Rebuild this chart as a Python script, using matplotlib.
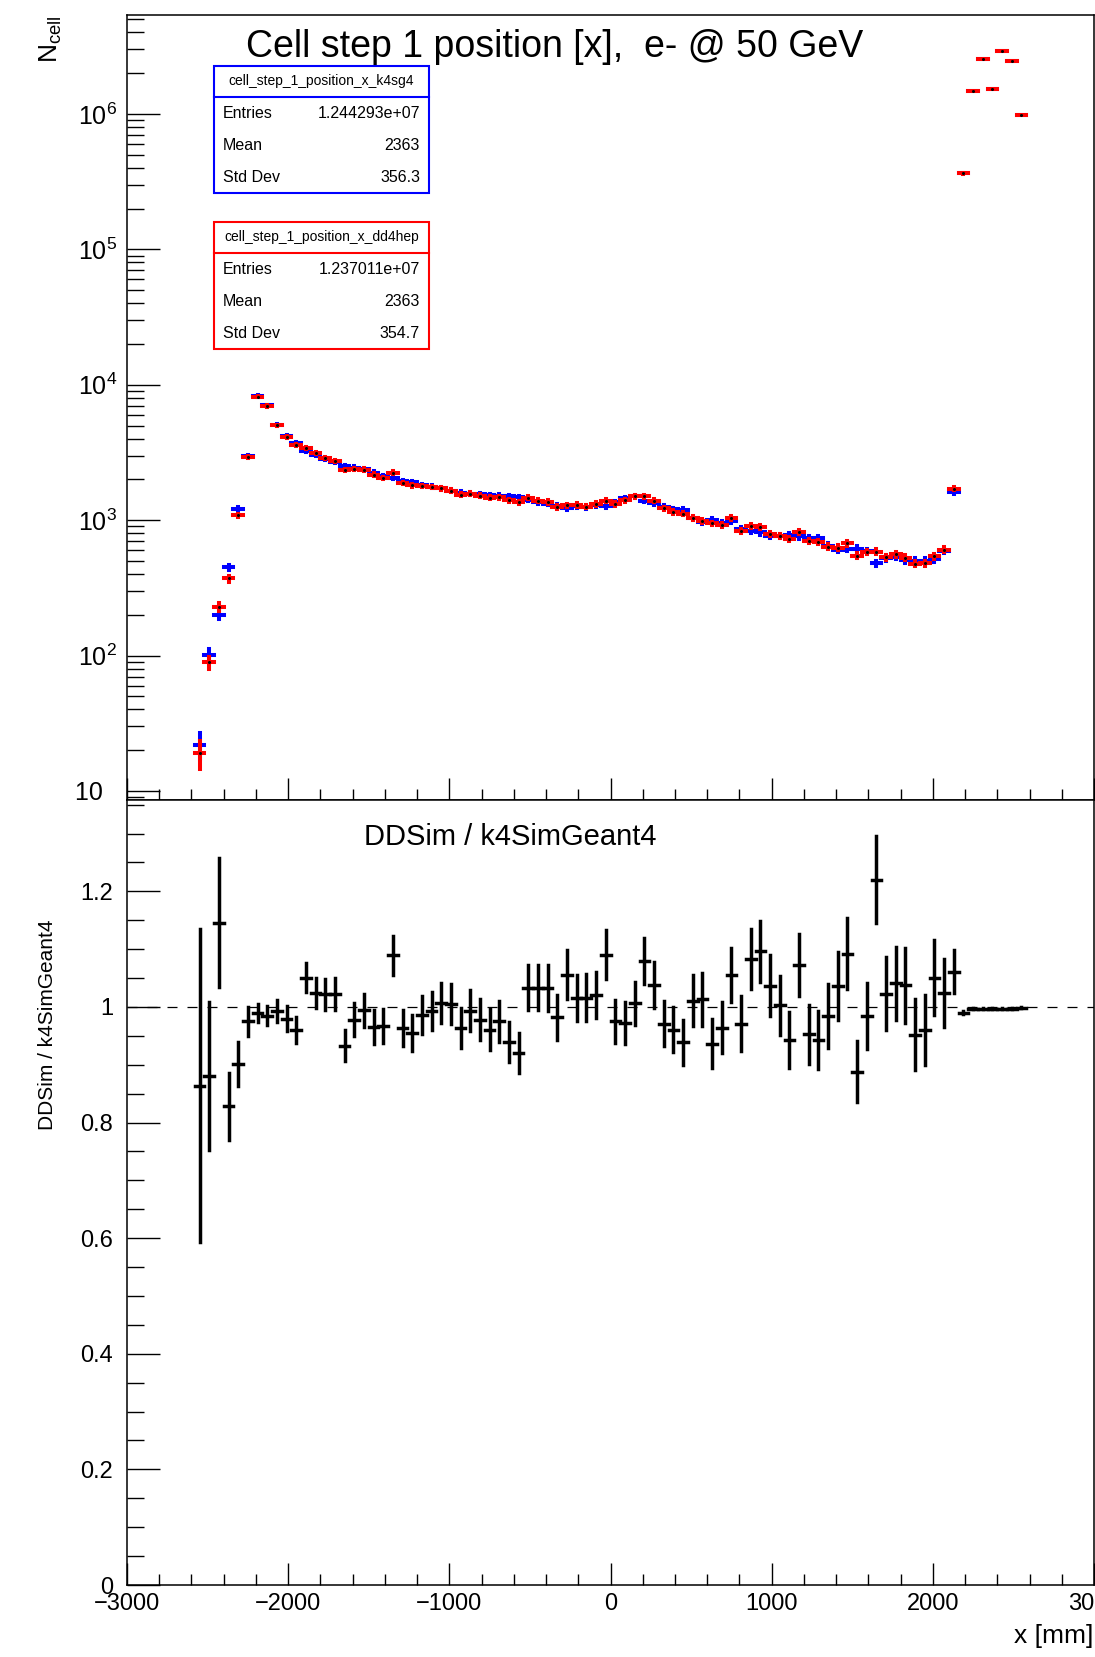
import numpy as np
import matplotlib.pyplot as plt
from matplotlib.patches import Rectangle
from matplotlib.lines import Line2D
from matplotlib.ticker import FixedLocator, FixedFormatter, MultipleLocator, FuncFormatter

plt.rcParams['font.family'] = ['Liberation Sans', 'DejaVu Sans']
plt.rcParams['mathtext.fontset'] = 'custom'
plt.rcParams['mathtext.rm'] = 'Liberation Sans'
plt.rcParams['mathtext.it'] = 'Liberation Sans:italic'
plt.rcParams['mathtext.default'] = 'regular'

# -------------------------- histogram contents --------------------------
# 100 bins over [-3000, 3000] mm, only the filled ones are kept
bin_width = 60.0
x_centers = np.arange(-2550, 2551, 60)

n_k4sg4 = [
    22, 101, 199, 448, 1206, 2985, 8260, 7060, 5050, 4190,
    3740, 3245, 3050, 2820, 2690, 2515, 2447, 2378, 2248, 2122,
    2065, 1950, 1900, 1812, 1773, 1714, 1645, 1600, 1574, 1555,
    1530, 1511, 1496, 1472, 1413, 1351, 1320, 1276, 1220, 1276,
    1241, 1290, 1276, 1351, 1446, 1496, 1388, 1340, 1260, 1200,
    1190, 1030, 975, 1010, 950, 985, 860, 837, 812, 765,
    760, 772, 758, 735, 735, 648, 606, 617, 617, 592,
    481, 522, 538, 509, 501, 501, 516, 593, 1605, 367000,
    1480000, 2550000, 1540000, 2920000, 2460000, 980000,
]
n_dd4hep = [
    19, 89, 228, 371, 1087, 2910, 8177, 6954, 5015, 4106,
    3590, 3410, 3123, 2882, 2749, 2346, 2393, 2364, 2169, 2052,
    2249, 1880, 1815, 1788, 1761, 1726, 1653, 1542, 1563, 1521,
    1470, 1473, 1405, 1354, 1460, 1396, 1364, 1253, 1288, 1296,
    1261, 1316, 1391, 1317, 1406, 1505, 1498, 1390, 1223, 1153,
    1117, 1041, 988, 946, 916, 1039, 835, 906, 890, 793,
    762, 728, 813, 700, 693, 638, 628, 674, 548, 583,
    587, 534, 560, 528, 477, 481, 542, 607, 1703, 363330,
    1475560, 2542350, 1535380, 2911240, 2452620, 979020,
]

stats_k4sg4 = ['cell_step_1_position_x_k4sg4', '1.244293e+07', '2363', '356.3']
stats_dd4hep = ['cell_step_1_position_x_dd4hep', '1.237011e+07', '2363', '354.7']
stat_names = ['Entries', 'Mean', 'Std Dev']

log_ticks = [10, 1e2, 1e3, 1e4, 1e5, 1e6]
log_tick_labels = ['10  ', '$10^{2}$', '$10^{3}$', '$10^{4}$', '$10^{5}$', '$10^{6}$']

n_k4sg4 = np.array(n_k4sg4, dtype=float)
n_dd4hep = np.array(n_dd4hep, dtype=float)
ratio = n_dd4hep / n_k4sg4
ratio_err = ratio * np.sqrt(1.0 / n_dd4hep + 1.0 / n_k4sg4)

# -------------------------- canvas --------------------------
W, H = 1095, 1657
fig = plt.figure(figsize=(W / 100, H / 100), dpi=100)


def fx(x):
    return x / W


def fy(y):
    return 1 - y / H


ax1 = fig.add_axes([fx(127), fy(800), 967 / W, 785 / H])
ax2 = fig.add_axes([fx(127), fy(1585), 967 / W, 785 / H])

for ax in (ax1, ax2):
    for s in ax.spines.values():
        s.set_linewidth(1.1)
    ax.set_xlim(-3000, 3000)
    ax.xaxis.set_major_locator(MultipleLocator(1000))
    ax.xaxis.set_minor_locator(MultipleLocator(200))
    ax.tick_params(axis='x', which='major', direction='in', length=16, width=1.0,
                   top=False, labelsize=17, pad=6)
    ax.tick_params(axis='x', which='minor', direction='in', length=8, width=1.0, top=False)
    ax.tick_params(axis='y', which='major', direction='in', length=24, width=1.0, right=False)
    ax.tick_params(axis='y', which='minor', direction='in', length=12, width=1.0, right=False)


def draw_hist(ax, y, yerr, color, lw):
    eb = ax.errorbar(x_centers, y, xerr=bin_width / 2, yerr=yerr,
                     fmt='none', ecolor=color, elinewidth=lw, capsize=0)
    for lc in eb[2]:
        lc.set_capstyle('projecting')
    return eb


# -------------------------- upper pad: both histograms --------------------------
ax1.set_yscale('log')
ax1.set_ylim(8.58, 5.38e6)
ax1.yaxis.set_major_locator(FixedLocator(log_ticks))
ax1.yaxis.set_major_formatter(FixedFormatter(log_tick_labels))
ax1.yaxis.set_minor_locator(FixedLocator(
    [m * 10 ** d for d in range(0, 7) for m in range(2, 10)]))
ax1.yaxis.set_minor_formatter(FixedFormatter([]))
ax1.tick_params(axis='y', labelsize=18, pad=7)
ax1.tick_params(axis='x', labelbottom=False)

draw_hist(ax1, n_k4sg4, np.sqrt(n_k4sg4), '#0000ff', 2.9)
draw_hist(ax1, n_dd4hep, np.sqrt(n_dd4hep), '#ff0000', 2.9)
ax1.plot(x_centers, n_dd4hep, ls='none', marker='o', ms=1.2, color='k')

# -------------------------- lower pad: ratio --------------------------
ax2.set_ylim(0, 1.358)
ax2.yaxis.set_major_locator(MultipleLocator(0.2))
ax2.yaxis.set_minor_locator(MultipleLocator(0.05))
ax2.yaxis.set_major_formatter(FuncFormatter(lambda v, p: f'{v:g}'))
ax2.tick_params(axis='y', labelsize=17, pad=10)

ax2.axhline(1.0, color='k', lw=0.9, ls=(0, (8, 8)), zorder=1)
draw_hist(ax2, ratio, ratio_err, 'k', 2.5)
ax2.plot(x_centers, ratio, ls='none', marker='o', ms=1.2, color='k', zorder=3)

# -------------------------- titles and axis labels --------------------------
fig.text(fx(555), fy(57), 'Cell step 1 position [x],  e- @ 50 GeV',
         ha='center', va='baseline', fontsize=27)
fig.text(fx(510), fy(845), 'DDSim / k4SimGeant4',
         ha='center', va='baseline', fontsize=21)
fig.text(fx(51), fy(15), r'N$_{\mathrm{cell}}$', rotation=90,
         ha='center', va='top', fontsize=19)
fig.text(fx(48), fy(1025), 'DDSim / k4SimGeant4', rotation=90,
         ha='center', va='center', fontsize=15)
fig.text(fx(1093), fy(1636), 'x [mm]', ha='right', va='center', fontsize=19)


# -------------------------- statistics boxes --------------------------
def stats_box(top, bottom, color, entries):
    left, right, head = 214, 429, top + 31
    fig.add_artist(Rectangle((fx(left), fy(bottom)), fx(right - left), (bottom - top) / H,
                             transform=fig.transFigure, fill=False,
                             edgecolor=color, lw=1.5))
    fig.add_artist(Line2D([fx(left), fx(right)], [fy(head), fy(head)],
                          transform=fig.transFigure, color=color, lw=1.5))
    fig.text(fx((left + right) / 2), fy((top + head) / 2), entries[0],
             ha='center', va='center', fontsize=10)
    row_h = (bottom - head) / 3
    for i, name in enumerate(stat_names):
        yc = head + row_h * (i + 0.5)
        fig.text(fx(223), fy(yc), name, ha='left', va='center', fontsize=11.5)
        fig.text(fx(420), fy(yc), entries[i + 1], ha='right', va='center', fontsize=11.5)


stats_box(66, 193, '#0000ff', stats_k4sg4)
stats_box(222, 349, '#ff0000', stats_dd4hep)

fig.savefig('out.png', dpi=100)
